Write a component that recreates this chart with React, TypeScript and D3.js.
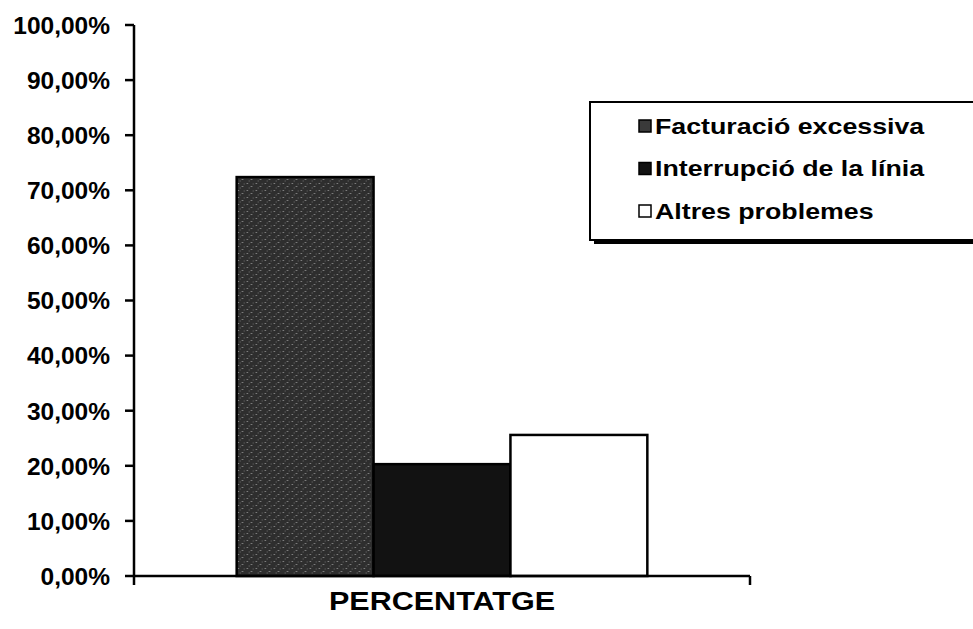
import React from "react";
import * as d3 from "d3";

const WIDTH = 973;
const HEIGHT = 629;

// data
const categories = ["PERCENTATGE"];
const seriesNames = ["Facturació excessiva", "Interrupció de la línia", "Altres problemes"];
const seriesValues = [0.724, 0.203, 0.256];
const yTicks = [0, 0.1, 0.2, 0.3, 0.4, 0.5, 0.6, 0.7, 0.8, 0.9, 1];

const fills = ["url(#speckle)", "#121212", "#ffffff"];
const swatchFills = ["#3a3a3a", "#121212", "#ffffff"];
const FONT = "'Liberation Sans', Arial, sans-serif";

const fmt = (v: number) => (v * 100).toFixed(2).replace(".", ",") + "%";

export default function App() {
  const margin = { left: 134, right: 223, top: 25, bottom: 53 };
  const x0 = margin.left;
  const x1 = WIDTH - margin.right;
  const yBottom = HEIGHT - margin.bottom;

  const y = d3.scaleLinear().domain([0, 1]).range([yBottom, margin.top]);

  const xOuter = d3
    .scaleBand<string>()
    .domain(categories)
    .range([x0, x1])
    .paddingInner(0)
    .paddingOuter(0.25);

  const xInner = d3
    .scaleBand<string>()
    .domain(seriesNames)
    .range([0, xOuter.bandwidth()])
    .padding(0);

  const legendX = 590;
  const legendY = 102;
  const legendW = 392;
  const legendH = 138;
  const rowY = d3.scaleLinear().domain([0, 2]).range([legendY + 24, legendY + 109]);

  return (
    <svg
      width={WIDTH}
      height={HEIGHT}
      style={{ position: "absolute", left: 0, top: 0, background: "#fff" }}
      fontFamily={FONT}
    >
      <defs>
        {/* dotted grey texture of the first series */}
        <pattern id="speckle" width={9} height={7} patternUnits="userSpaceOnUse">
          <rect width={9} height={7} fill="#2e2e2e" />
          <rect x={1} y={1} width={1.2} height={1} fill="#9a9a9a" />
          <rect x={5} y={4} width={1.5} height={1} fill="#8a8a8a" />
          <rect x={7} y={1.5} width={1} height={1} fill="#6a6a6a" />
          <rect x={3} y={5.5} width={1} height={1} fill="#707070" />
        </pattern>
      </defs>

      {/* bars */}
      {categories.map((c) => (
        <g key={c} transform={`translate(${xOuter(c)},0)`}>
          {seriesNames.map((s, i) => (
            <rect
              key={s}
              x={xInner(s)}
              y={y(seriesValues[i])}
              width={xInner.bandwidth()}
              height={y(0) - y(seriesValues[i])}
              fill={fills[i]}
              stroke="#000"
              strokeWidth={2.5}
            />
          ))}
        </g>
      ))}

      {/* y axis */}
      <line x1={x0} x2={x0} y1={y(1)} y2={yBottom + 9} stroke="#000" strokeWidth={2.5} />
      {yTicks.map((t) => (
        <g key={t} transform={`translate(0,${y(t)})`}>
          <line x1={x0 - 9} x2={x0} stroke="#000" strokeWidth={2.5} />
          <text
            x={x0 - 24}
            dy="0.36em"
            textAnchor="end"
            fontSize={24.5}
            fontWeight="bold"
            fill="#000"
          >
            {fmt(t)}
          </text>
        </g>
      ))}

      {/* x axis */}
      <line x1={x0} x2={x1} y1={yBottom} y2={yBottom} stroke="#000" strokeWidth={2.5} />
      <line x1={x1} x2={x1} y1={yBottom} y2={yBottom + 9} stroke="#000" strokeWidth={2.5} />
      {categories.map((c) => (
        <text
          key={c}
          x={(xOuter(c) ?? 0) + xOuter.bandwidth() / 2}
          y={yBottom + 34}
          textAnchor="middle"
          fontSize={25.5}
          fontWeight="bold"
          textLength={226}
          lengthAdjust="spacingAndGlyphs"
          fill="#000"
        >
          {c}
        </text>
      ))}

      {/* legend */}
      <rect x={legendX + 4} y={legendY + 4} width={legendW} height={legendH} fill="#000" />
      <rect
        x={legendX}
        y={legendY}
        width={legendW}
        height={legendH}
        fill="#fff"
        stroke="#000"
        strokeWidth={2}
      />
      {seriesNames.map((s, i) => (
        <g key={s} transform={`translate(0,${rowY(i)})`}>
          <rect
            x={639}
            y={-6}
            width={12}
            height={12}
            fill={swatchFills[i]}
            stroke="#000"
            strokeWidth={1.5}
          />
          <text
            transform="translate(655,0) scale(1.245,1)"
            dy="0.36em"
            fontSize={21.5}
            fontWeight="bold"
            fill="#000"
          >
            {s}
          </text>
        </g>
      ))}
    </svg>
  );
}
